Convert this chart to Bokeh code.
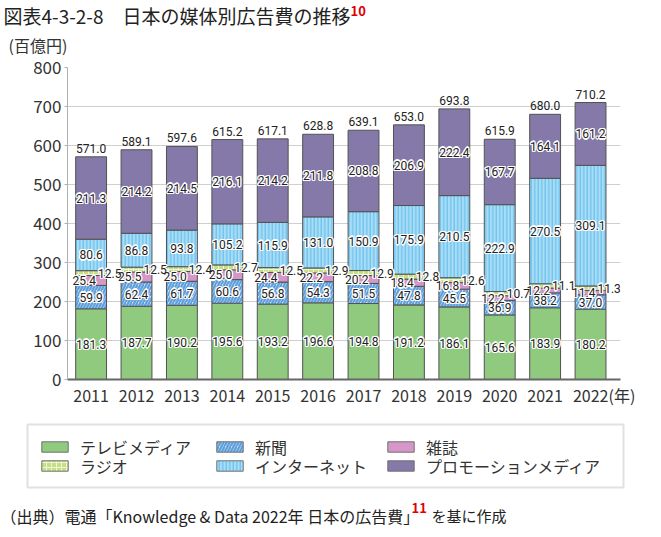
from bokeh.plotting import figure
from bokeh.layouts import column
from bokeh.models import (ColumnDataSource, Range1d, FixedTicker, Label, Legend,
                          LegendItem, BoxAnnotation)
from bokeh.core.properties import value
from bokeh.embed import file_html
from bokeh.resources import INLINE

# ---------------- data ----------------
years = [2011, 2012, 2013, 2014, 2015, 2016, 2017, 2018, 2019, 2020, 2021, 2022]
tv = [181.3, 187.7, 190.2, 195.6, 193.2, 196.6, 194.8, 191.2, 186.1, 165.6, 183.9, 180.2]
newspaper = [59.9, 62.4, 61.7, 60.6, 56.8, 54.3, 51.5, 47.8, 45.5, 36.9, 38.2, 37.0]
magazine = [25.4, 25.5, 25.0, 25.0, 24.4, 22.2, 20.2, 18.4, 16.8, 12.2, 12.2, 11.4]
radio = [12.5, 12.5, 12.4, 12.7, 12.5, 12.9, 12.9, 12.8, 12.6, 10.7, 11.1, 11.3]
internet = [80.6, 86.8, 93.8, 105.2, 115.9, 131.0, 150.9, 175.9, 210.5, 222.9, 270.5, 309.1]
promotion = [211.3, 214.2, 214.5, 216.1, 214.2, 211.8, 208.8, 206.9, 222.4, 167.7, 164.1, 161.2]
totals = [571.0, 589.1, 597.6, 615.2, 617.1, 628.8, 639.1, 653.0, 693.8, 615.9, 680.0, 710.2]
y_ticks = [0, 100, 200, 300, 400, 500, 600, 700, 800]

series_names = ["テレビメディア", "新聞", "雑誌", "ラジオ", "インターネット", "プロモーションメディア"]
series_values = [tv, newspaper, magazine, radio, internet, promotion]

title_text = "図表4-3-2-8　日本の媒体別広告費の推移"
unit_text = "(百億円)"
year_unit = "(年)"
source_text = "（出典）電通「Knowledge & Data 2022年 日本の広告費」"
source_tail = "を基に作成"

# ---------------- styles ----------------
JPS = "Noto Sans CJK JP"
NUM = value("Roboto")
styles = [
    dict(fill_color="#8fca7f"),
    dict(fill_color="#c8e1f6", hatch_pattern="/", hatch_color="#5f9fdc", hatch_scale=6, hatch_weight=2.2),
    dict(fill_color="#d597c8"),
    dict(fill_color="#c6df86", hatch_pattern="+", hatch_color="#eef6d6", hatch_scale=5, hatch_weight=1),
    dict(fill_color="#a8ddf7", hatch_pattern="|", hatch_color="#5db8ea", hatch_scale=3.5, hatch_weight=1),
    dict(fill_color="#8479a8"),
]


def blank(height, y_top, y_bottom):
    f = figure(width=661, height=height, x_range=Range1d(0, 661), y_range=Range1d(y_bottom, y_top),
               output_backend="svg", toolbar_location=None, title=None,
               x_axis_type=None, y_axis_type=None, frame_align=False,
               min_border_left=0, min_border_right=0, min_border_top=0, min_border_bottom=0)
    f.grid.grid_line_color = None
    f.outline_line_color = None
    f.background_fill_color = "white"
    f.border_fill_color = "white"
    return f


def lab(fig, text, x, y, size, color="#222222", bold=False):
    fig.add_layout(Label(x=x, y=y, text=text, text_font=JPS, text_font_size=size,
                         text_color=color, text_font_style="bold" if bold else "normal",
                         text_align="left", text_baseline="middle"))


# ---------------- header ----------------
top = blank(56, 0, 56)
lab(top, title_text, 3, 15, "19px")
lab(top, "10", 350, 10, "13px", color="#e00000", bold=True)
lab(top, unit_text, 8, 44, "16px", color="#333333")

# ---------------- main chart ----------------
p = figure(width=661, height=354, x_range=Range1d(2010.48, 2022.66), y_range=Range1d(0, 800),
           output_backend="svg", toolbar_location=None, title=None, frame_align=False,
           min_border_left=67, min_border_right=41, min_border_top=11, min_border_bottom=31)
p.outline_line_color = None
p.background_fill_color = "white"
p.border_fill_color = "white"

bottoms = [0.0] * len(years)
sources = []
renderers = []
seg_mid = []
for vals, st in zip(series_values, styles):
    tops = [b + v for b, v in zip(bottoms, vals)]
    src = ColumnDataSource(dict(x=years, bottom=bottoms, top=tops))
    r = p.vbar(x="x", bottom="bottom", top="top", width=0.68, source=src,
               line_color="#525252", line_width=1, **st)
    sources.append(src)
    renderers.append(r)
    seg_mid.append([(b + t) / 2 for b, t in zip(bottoms, tops)])
    bottoms = tops

lx, ly, lt = [], [], []
for i, vals in enumerate(series_values):
    for j, yr in enumerate(years):
        dx = -0.15 if i == 2 else (0.41 if i == 3 else 0.0)
        lx.append(yr + dx)
        ly.append(seg_mid[i][j])
        lt.append(f"{vals[j]:.1f}")
lab_src = ColumnDataSource(dict(x=lx, y=ly, t=lt))
for ox, oy in [(-1.3, 0), (1.3, 0), (0, -1.3), (0, 1.3), (-1, -1), (1, 1), (-1, 1), (1, -1)]:
    p.text(x="x", y="y", text="t", source=lab_src, x_offset=ox, y_offset=oy,
           text_font=NUM, text_font_size="12px", text_color="white",
           text_align="center", text_baseline="middle")
p.text(x="x", y="y", text="t", source=lab_src, text_font=NUM, text_font_size="12px",
       text_color="#222222", text_align="center", text_baseline="middle")

tot_src = ColumnDataSource(dict(x=years, y=totals, t=[f"{v:.1f}" for v in totals]))
p.text(x="x", y="y", text="t", source=tot_src, y_offset=-4, text_font=NUM,
       text_font_size="12px", text_color="#222222", text_align="center", text_baseline="bottom")

p.xgrid.grid_line_color = None
p.ygrid.grid_line_color = "#cfcfcf"
p.yaxis.ticker = FixedTicker(ticks=y_ticks)
p.xaxis.ticker = FixedTicker(ticks=years)
# keep "2022" centred under its bar while appending the unit
p.xaxis.major_label_overrides = {years[-1]: "\u3000\u2002\u2009" + str(years[-1]) + year_unit}
p.yaxis.minor_tick_line_color = None
p.xaxis.minor_tick_line_color = None
p.yaxis.axis_line_color = "#b0b0b0"
p.yaxis.major_tick_line_color = "#b0b0b0"
p.yaxis.major_tick_out = 3
p.yaxis.major_tick_in = 0
p.yaxis.major_label_standoff = 3
p.yaxis.major_label_text_font = JPS
p.yaxis.major_label_text_font_size = "17px"
p.yaxis.major_label_text_color = "#333333"
p.xaxis.axis_line_color = "#666666"
p.xaxis.axis_line_width = 2
p.xaxis.major_tick_line_color = None
p.xaxis.major_tick_out = 0
p.xaxis.major_tick_in = 0
p.xaxis.major_label_standoff = 3
p.xaxis.major_label_text_font = JPS
p.xaxis.major_label_text_font_size = "16px"
p.xaxis.major_label_text_color = "#333333"

# ---------------- legend + source ----------------
bot = blank(127, 410, 537)
bot.add_layout(BoxAnnotation(left=27, right=623, top=424, bottom=487,
                             fill_alpha=0.0, line_color="#9a9a9a", line_width=2))
proxies = []
for src, st in zip(sources, styles):
    proxies.append(bot.vbar(x="x", bottom="bottom", top="top", width=0.68, source=src,
                            line_color="#707070", line_width=1, visible=False, **st))

legend_cols = [0, 1, 2, 0, 1, 2]
legend_rows = [0, 0, 0, 1, 1, 1]
item_order = [0, 1, 2, 3, 4, 5]
col_x = [38, 213, 384]
row_bottom = [78.5, 59.5]
for k in item_order:
    lg = Legend(items=[LegendItem(label=series_names[k], renderers=[proxies[k]])],
                location=(col_x[legend_cols[k]], row_bottom[legend_rows[k]]),
                padding=0, margin=0, spacing=0,
                glyph_width=33, glyph_height=13, label_height=19, label_standoff=9,
                label_text_font=JPS, label_text_font_size="16px", label_text_color="#333333",
                border_line_color=None, background_fill_alpha=0.0)
    bot.add_layout(lg, "center")

lab(bot, source_text, 0, 515, "16px")
lab(bot, "11", 411, 507, "13px", color="#e00000", bold=True)
lab(bot, source_tail, 431, 515, "15px")

layout = column(top, p, bot, spacing=0)
open("out.html", "w").write(file_html(layout, INLINE))
